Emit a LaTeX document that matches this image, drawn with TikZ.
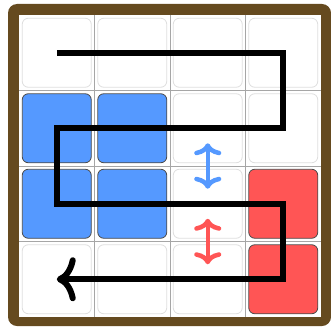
\documentclass[tikz,border=0pt]{standalone}
\usetikzlibrary{arrows.meta}

\definecolor{frame_brown}{HTML}{654A1F}
\definecolor{block_blue}{HTML}{5599FF}
\definecolor{block_red}{HTML}{FF5555}

\begin{document}
\begin{tikzpicture}[
        x=1pt, y=-1pt,
        tile/.style={draw=gray!25, fill=white, rounded corners=6pt, minimum size=69pt, inner sep=0pt, line width=0.8pt},
        blue_tile/.style={tile, fill=block_blue, draw=black!70},
        red_tile/.style={tile, fill=block_red, draw=black!70},
        empty_tile/.style={tile},
        route/.style={line width=6pt, miter limit=10, -{Computer Modern Rightarrow[length=19pt, width=44pt, round]}},
        swap_arrow/.style={line width=4.5pt, line cap=round, shorten <=15pt, shorten >=15pt, {Computer Modern Rightarrow[length=12pt, width=27pt, round]}-{Computer Modern Rightarrow[length=12pt, width=27pt, round]}}
    ]
        \useasboundingbox (0,0) rectangle (331,326);

        % Frame and board
        \fill[frame_brown, rounded corners=9pt] (8,4) rectangle (331,326);
        \fill[white] (19,15) rectangle (321,317);
        \foreach \i in {1,2,3} {
            \draw[gray!70, line width=0.8pt] ({19+75.5*\i},15) -- ({19+75.5*\i},317);
            \draw[gray!70, line width=0.8pt] (19,{15+75.5*\i}) -- (321,{15+75.5*\i});
        }

        % Tiles
        \foreach \r/\c/\kind in {1/1/empty, 1/2/empty, 1/3/empty, 1/4/empty,
                                2/1/blue, 2/2/blue, 2/3/empty, 2/4/empty,
                                3/1/blue, 3/2/blue, 3/3/empty, 3/4/red,
                                4/1/empty, 4/2/empty, 4/3/empty, 4/4/red}
            \node (c\r\c) [\kind_tile] at ({19+75.5*(\c-0.5)},{15+75.5*(\r-0.5)}) {};

        % Route
        \draw [route] (c11.center) -- (c14.center) -- (c24.center) -- (c21.center)
            -- (c31.center) -- (c34.center) -- (c44.center) -- (c41.center);

        % Swaps
        \draw [swap_arrow, draw=block_blue] (c23.center) -- (c33.center);
        \draw [swap_arrow, draw=block_red] (c33.center) -- (c43.center);
    \end{tikzpicture}
\end{document}
